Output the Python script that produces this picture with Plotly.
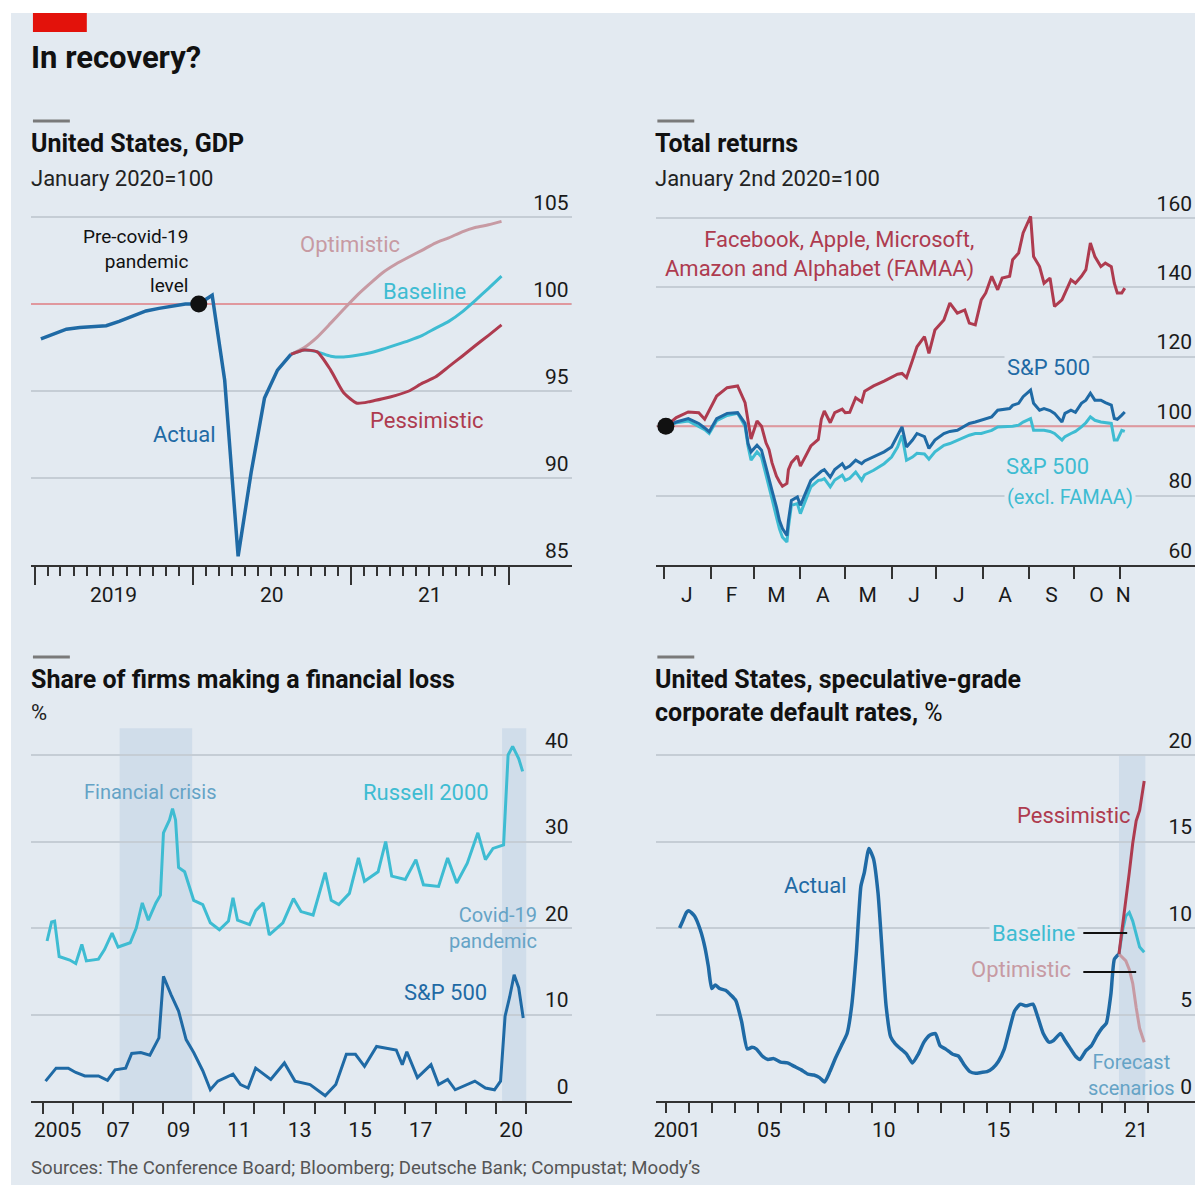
import plotly.graph_objects as go

# ---------------- DATA ----------------
# Panel 1: United States GDP, January 2020 = 100 (monthly)
gdp_actual_dates = ["2019-01-15", "2019-02-15", "2019-03-15", "2019-04-15", "2019-05-15", "2019-06-15",
                    "2019-07-15", "2019-08-15", "2019-09-15", "2019-10-15", "2019-11-15", "2019-12-15",
                    "2020-01-15", "2020-02-15", "2020-03-15", "2020-04-15", "2020-05-15", "2020-06-15",
                    "2020-07-15", "2020-08-15"]
gdp_actual = [98.0, 98.3, 98.55, 98.65, 98.7, 98.75, 99.0, 99.3, 99.6, 99.75, 99.9, 100.0,
              100.0, 100.5, 95.6, 85.5, 90.3, 94.6, 96.2, 97.1]
gdp_scen_dates = ["2020-08-15", "2020-09-15", "2020-10-15", "2020-11-15", "2020-12-15", "2021-01-15",
                  "2021-02-15", "2021-03-15", "2021-04-15", "2021-05-15", "2021-06-15", "2021-07-15",
                  "2021-08-15", "2021-09-15", "2021-10-15", "2021-11-15", "2021-12-15"]
gdp_optimistic = [97.1, 97.5, 98.1, 98.9, 99.7, 100.5, 101.2, 101.8, 102.3, 102.7, 103.1, 103.5,
                  103.8, 104.15, 104.4, 104.55, 104.75]
gdp_baseline = [97.1, 97.35, 97.25, 97.0, 96.95, 97.05, 97.2, 97.4, 97.65, 97.9, 98.2, 98.6,
                99.0, 99.55, 100.2, 100.9, 101.6]
gdp_pessimistic = [97.1, 97.35, 97.25, 96.2, 94.9, 94.3, 94.4, 94.55, 94.75, 95.0, 95.45, 95.8,
                   96.4, 97.0, 97.6, 98.2, 98.8]
gdp_ticks = ["2019-01-01", "2020-01-01", "2021-01-01", "2022-01-01"]
gdp_minor_ticks = [f"{y}-{m:02d}-01" for y in (2019, 2020, 2021) for m in range(1, 13)] + ["2022-01-01"]
gdp_label_pos = ["2019-07-02", "2020-07-02", "2021-07-02"]
gdp_labels = ["2019", "20", "21"]
gdp_yticks = [85, 90, 95, 100, 105]
gdp_reference = 100

# Panel 2: Total returns, January 2nd 2020 = 100
ret_dates = ["2020-01-02", "2020-01-09", "2020-01-17", "2020-01-24", "2020-01-28", "2020-01-31",
             "2020-02-05", "2020-02-12", "2020-02-19", "2020-02-24", "2020-02-26", "2020-02-28",
             "2020-03-03", "2020-03-06", "2020-03-09", "2020-03-11", "2020-03-13", "2020-03-16",
             "2020-03-18", "2020-03-20", "2020-03-23", "2020-03-24", "2020-03-26", "2020-03-30",
             "2020-04-01", "2020-04-08", "2020-04-13", "2020-04-15", "2020-04-17", "2020-04-21",
             "2020-04-24", "2020-04-29", "2020-05-01", "2020-05-04", "2020-05-08", "2020-05-12",
             "2020-05-14", "2020-05-20", "2020-05-27", "2020-06-01", "2020-06-05", "2020-06-08",
             "2020-06-11", "2020-06-15", "2020-06-18", "2020-06-23", "2020-06-26", "2020-06-30",
             "2020-07-06", "2020-07-10", "2020-07-15", "2020-07-20", "2020-07-23", "2020-07-27",
             "2020-07-31", "2020-08-03", "2020-08-07", "2020-08-11", "2020-08-14", "2020-08-19",
             "2020-08-21", "2020-08-25", "2020-08-28", "2020-09-02", "2020-09-04", "2020-09-08",
             "2020-09-11", "2020-09-15", "2020-09-18", "2020-09-23", "2020-09-25", "2020-09-29",
             "2020-10-02", "2020-10-06", "2020-10-09", "2020-10-12", "2020-10-15", "2020-10-19",
             "2020-10-22", "2020-10-26", "2020-10-28", "2020-10-30", "2020-11-02", "2020-11-04"]
ret_famaa = [100, 102.5, 104.1, 103.9, 102.0, 104.4,
             108.7, 111.1, 111.6, 106.8, 102.0, 96.3,
             101.5, 100.0, 95.2, 93.3, 89.5, 85.6, 84.0, 82.7, 83.5, 87.5, 89.5, 91.4,
             88.5, 94.3, 96.2, 102.0, 104.4, 101.0, 103.9, 104.9,
             103.9, 104.0, 108.2, 107.0, 110.1, 111.6, 113.0,
             114.0, 115.0, 115.2, 114.0, 119.0, 122.9, 125.8, 121.0, 127.7,
             130.6, 135.5, 132.6, 133.5, 129.7, 129.2, 136.4,
             138.4, 143.2, 139.3, 142.7, 143.2, 148.0, 149.9, 155.7,
             160.5, 148.9, 146.0, 141.2, 142.7, 134.5, 136.4, 138.4, 142.2,
             141.2, 143.2, 145.1, 152.8, 148.9, 146.0, 147.0, 146.0, 141.2, 138.4,
             138.4, 139.8]
ret_sp500 = [100, 101.2, 102.2, 100.8, 99.5, 98.4,
             102.2, 103.7, 103.9, 100.8, 95.0, 92.6,
             94.5, 93.1, 88.2, 84.4, 81.5, 76.7, 72.8, 70.5, 68.5, 72.8, 78.6, 79.6,
             77.2, 84.4, 86.3, 87.0, 87.5, 85.3, 87.5, 89.2,
             87.8, 88.5, 90.2, 89.2, 90.0, 91.1, 92.6,
             94.0, 97.4, 99.8, 94.0, 96.0, 97.9, 97.0, 93.6, 96.0,
             97.9, 98.5, 98.8, 100.0, 100.8, 101.2, 101.7,
             102.2, 102.7, 104.6, 104.8, 105.1, 106.0, 106.6, 108.5,
             110.4, 106.6, 104.6, 105.1, 104.5, 103.7, 101.2, 103.7, 104.6,
             104.0, 106.6, 107.5, 109.5, 107.5, 107.5, 106.8, 106.1, 102.2, 102.0,
             103.2, 104.1]
ret_sp500_ex = [100, 101.0, 101.5, 100.0, 99.0, 97.9,
                101.6, 103.1, 103.7, 100.0, 94.2, 90.2,
                92.6, 91.1, 86.3, 82.5, 79.1, 73.8, 70.4, 68.0, 66.6, 70.9, 77.2, 77.7,
                74.8, 82.5, 84.4, 84.5, 84.9, 82.5, 84.5, 85.9,
                84.4, 85.0, 86.8, 84.4, 86.0, 87.3, 89.2,
                91.1, 94.0, 97.4, 90.2, 91.1, 92.2, 92.0, 90.5, 92.6,
                94.5, 95.0, 96.0, 97.0, 97.4, 97.9, 97.9,
                98.3, 98.8, 99.8, 99.8, 99.8, 100.0, 100.3, 101.2,
                102.2, 98.8, 98.8, 98.8, 98.5, 97.9, 96.0, 97.0, 97.9,
                98.5, 99.8, 101.0, 102.7, 101.7, 101.2, 101.0, 100.8, 96.0, 96.0,
                98.8, 98.5]
ret_ticks = [f"2020-{m:02d}-01" for m in range(1, 12)]
ret_label_pos = ["2020-01-16", "2020-02-15", "2020-03-16", "2020-04-16", "2020-05-16", "2020-06-16",
                 "2020-07-16", "2020-08-16", "2020-09-16", "2020-10-16", "2020-11-03"]
ret_labels = ["J", "F", "M", "A", "M", "J", "J", "A", "S", "O", "N"]
ret_yticks = [60, 80, 100, 120, 140, 160]
ret_reference = 100

# Panel 3: Share of firms making a financial loss, %
loss_russell_x = [2005.15, 2005.3, 2005.4, 2005.55, 2005.9, 2006.1, 2006.3, 2006.45, 2006.85, 2007.05,
                  2007.3, 2007.5, 2007.9, 2008.1, 2008.3, 2008.5, 2008.75, 2008.9, 2009.0, 2009.2,
                  2009.3, 2009.4, 2009.5, 2009.7, 2010.0, 2010.3, 2010.55, 2010.85, 2011.15, 2011.3,
                  2011.45, 2011.85, 2012.05, 2012.3, 2012.5, 2012.95, 2013.3, 2013.55, 2013.95, 2014.35,
                  2014.55, 2014.8, 2015.15, 2015.45, 2015.65, 2016.1, 2016.35, 2016.55, 2017.0, 2017.35,
                  2017.6, 2018.1, 2018.4, 2018.7, 2019.05, 2019.4, 2019.65, 2019.9, 2020.25, 2020.4,
                  2020.55, 2020.75, 2020.88]
loss_russell = [18.5, 20.7, 20.8, 16.7, 16.3, 15.9, 18.1, 16.2, 16.4, 17.5,
                19.4, 17.8, 18.3, 20.0, 22.9, 20.9, 22.9, 23.8, 31.0, 32.5,
                33.8, 32.5, 27.0, 26.5, 23.2, 22.7, 20.6, 19.8, 20.8, 23.5,
                20.9, 20.4, 22.0, 22.9, 19.2, 20.6, 23.4, 21.9, 21.5, 26.4,
                23.2, 22.7, 24.0, 28.1, 25.4, 26.5, 30.0, 26.0, 25.6, 27.9,
                25.0, 24.8, 28.1, 25.2, 27.5, 31.0, 27.9, 29.2, 29.6, 40.0,
                41.0, 39.6, 38.1]
loss_sp_x = [2005.1, 2005.45, 2005.85, 2006.1, 2006.4, 2006.85, 2007.15, 2007.4, 2007.75, 2007.95,
             2008.25, 2008.55, 2008.85, 2009.0, 2009.25, 2009.5, 2009.75, 2010.0, 2010.3, 2010.55,
             2010.8, 2011.3, 2011.55, 2011.8, 2012.05, 2012.55, 2013.0, 2013.35, 2013.85, 2014.35,
             2014.7, 2015.05, 2015.35, 2015.65, 2016.05, 2016.35, 2016.7, 2016.9, 2017.05, 2017.4,
             2017.85, 2018.1, 2018.4, 2018.65, 2019.3, 2019.65, 2019.95, 2020.15, 2020.3, 2020.45,
             2020.6, 2020.75, 2020.9]
loss_sp = [2.3, 3.8, 3.8, 3.3, 2.9, 2.9, 2.4, 3.6, 3.8, 5.5,
           5.6, 5.3, 7.3, 14.4, 12.3, 10.4, 7.1, 5.6, 3.5, 1.3,
           2.3, 3.1, 1.9, 1.5, 3.8, 2.5, 4.4, 2.3, 1.9, 0.6,
           1.9, 5.4, 5.4, 4.0, 6.3, 6.1, 5.9, 4.2, 5.7, 2.7,
           4.2, 1.9, 2.5, 1.3, 2.3, 1.5, 1.3, 2.3, 9.8, 12.0,
           14.6, 13.1, 9.6]
loss_crisis_band = [2007.55, 2009.95]
loss_covid_band = [2020.2, 2021.0]
loss_band_top = 43.1
loss_ticks = list(range(2005, 2022))
loss_label_pos = [2005.5, 2007.5, 2009.5, 2011.5, 2013.5, 2015.5, 2017.5, 2020.5]
loss_labels = ["2005", "07", "09", "11", "13", "15", "17", "20"]
loss_yticks = [0, 10, 20, 30, 40]

# Panel 4: US speculative-grade corporate default rates, %
def_actual_x = [2001.6, 2001.75, 2001.9, 2002.0, 2002.25, 2002.5, 2002.7, 2002.85, 2003.0, 2003.15,
                2003.35, 2003.6, 2003.85, 2004.05, 2004.3, 2004.55, 2004.75, 2004.95, 2005.2, 2005.45,
                2005.7, 2006.0, 2006.3, 2006.6, 2006.9, 2007.2, 2007.45, 2007.7, 2007.92, 2008.15,
                2008.4, 2008.65, 2008.9, 2009.1, 2009.3, 2009.5, 2009.65, 2009.85, 2010.05, 2010.25,
                2010.45, 2010.6, 2010.8, 2011.0, 2011.25, 2011.5, 2011.75, 2012.0, 2012.25, 2012.5,
                2012.75, 2012.95, 2013.2, 2013.5, 2013.75, 2014.0, 2014.25, 2014.5, 2014.75, 2015.0,
                2015.25, 2015.5, 2015.75, 2015.95, 2016.2, 2016.45, 2016.7, 2017.0, 2017.2, 2017.45,
                2017.7, 2017.9, 2018.2, 2018.4, 2018.6, 2018.85, 2019.05, 2019.3, 2019.55, 2019.8,
                2020.0, 2020.2, 2020.4, 2020.55, 2020.75]
def_actual = [10.0, 10.45, 10.9, 11.0, 10.7, 9.9, 8.9, 7.8, 6.5, 6.7,
              6.5, 6.4, 6.1, 5.8, 4.6, 3.0, 3.1, 3.0, 2.6, 2.4,
              2.45, 2.25, 2.2, 2.0, 1.8, 1.55, 1.5, 1.35, 1.1, 1.7,
              2.5, 3.2, 3.9, 5.5, 8.5, 12.4, 13.2, 14.6, 14.0, 12.0,
              8.2, 5.5, 3.7, 3.3, 3.0, 2.7, 2.2, 2.7, 3.4, 3.8,
              3.9, 3.2, 3.0, 2.7, 2.6, 2.1, 1.7, 1.6, 1.65, 1.7,
              1.9, 2.3, 3.0, 4.0, 5.2, 5.6, 5.5, 5.6, 4.9, 3.9,
              3.4, 3.5, 3.9, 3.5, 3.1, 2.6, 2.4, 2.9, 3.2, 3.8,
              4.2, 4.5, 6.2, 8.2, 8.5]
def_scen_x = [2020.75, 2020.9, 2021.05, 2021.2, 2021.35, 2021.5, 2021.65, 2021.85]
def_pessimistic = [8.5, 10.0, 11.6, 13.2, 14.9, 16.2, 16.8, 18.5]
def_baseline = [8.5, 9.8, 10.7, 10.9, 10.4, 9.6, 8.9, 8.6]
def_optimistic = [8.5, 8.3, 8.1, 7.6, 6.8, 5.4, 4.2, 3.4]
def_forecast_band = [2020.75, 2021.9]
def_band_top = 20
def_ticks = list(range(2001, 2023))
def_label_pos = [2001.5, 2005.5, 2010.5, 2015.5, 2021.5]
def_labels = ["2001", "05", "10", "15", "21"]
def_yticks = [0, 5, 10, 15, 20]

# ---------------- STYLE ----------------
# The page body has an 8px margin, so the figure is drawn 8px in from the top-left corner.
OX, OY = 8, 8
FW, FH = 1195, 1177
BG = "#e3eaf1"
GRID = "#c5cdd5"
AXIS = "#333333"
TXT = "#1a1a1a"
BLUE = "#1f6aa5"
CYAN = "#3ebcd2"
RED = "#ae3b4f"
MAUVE = "#c79aa3"
PINK = "#e0989e"
MUTED = "#65a3c6"
BAND = "#d0ddea"
FONT = "Roboto, 'Open Sans', sans-serif"


def px(x):
    return (x - OX) / FW


def py(y):
    return 1 - (y - OY) / FH


P1 = dict(x=(28, 570), y=(188, 565))
P2 = dict(x=(655, 1195), y=(188, 565))
P3 = dict(x=(28, 570), y=(716, 1101))
P4 = dict(x=(655, 1195), y=(728, 1101))

r1 = ["2018-12-23", "2022-05-26"]
r2 = ["2019-12-26 16:00", "2020-12-21"]
r3 = [2004.617, 2022.5]
r4 = [2000.587, 2024.065]

fig = go.Figure()

# Panel 1 traces
fig.add_trace(go.Scatter(x=r1, y=[gdp_reference, gdp_reference], mode="lines", xaxis="x", yaxis="y",
                         line=dict(color=PINK, width=2), hoverinfo="skip"))
fig.add_trace(go.Scatter(x=gdp_scen_dates, y=gdp_optimistic, mode="lines", xaxis="x", yaxis="y",
                         line=dict(color=MAUVE, width=3, shape="spline", smoothing=0.6)))
fig.add_trace(go.Scatter(x=gdp_scen_dates, y=gdp_baseline, mode="lines", xaxis="x", yaxis="y",
                         line=dict(color=CYAN, width=3, shape="spline", smoothing=0.6)))
fig.add_trace(go.Scatter(x=gdp_scen_dates, y=gdp_pessimistic, mode="lines", xaxis="x", yaxis="y",
                         line=dict(color=RED, width=3, shape="spline", smoothing=0.6)))
fig.add_trace(go.Scatter(x=gdp_actual_dates, y=gdp_actual, mode="lines", xaxis="x", yaxis="y",
                         line=dict(color=BLUE, width=3.5)))
fig.add_trace(go.Scatter(x=[gdp_actual_dates[12]], y=[gdp_actual[12]], mode="markers", xaxis="x", yaxis="y",
                         marker=dict(color="#111111", size=17)))

# Panel 2 traces
fig.add_trace(go.Scatter(x=r2, y=[ret_reference, ret_reference], mode="lines", xaxis="x2", yaxis="y2",
                         line=dict(color=PINK, width=2), hoverinfo="skip"))
fig.add_trace(go.Scatter(x=ret_dates, y=ret_sp500_ex, mode="lines", xaxis="x2", yaxis="y2",
                         line=dict(color=CYAN, width=3)))
fig.add_trace(go.Scatter(x=ret_dates, y=ret_sp500, mode="lines", xaxis="x2", yaxis="y2",
                         line=dict(color=BLUE, width=3)))
fig.add_trace(go.Scatter(x=ret_dates, y=ret_famaa, mode="lines", xaxis="x2", yaxis="y2",
                         line=dict(color=RED, width=3)))
fig.add_trace(go.Scatter(x=[ret_dates[0]], y=[ret_famaa[0]], mode="markers", xaxis="x2", yaxis="y2",
                         marker=dict(color="#111111", size=17)))

# Panel 3 traces
fig.add_trace(go.Scatter(x=loss_russell_x, y=loss_russell, mode="lines", xaxis="x3", yaxis="y3",
                         line=dict(color=CYAN, width=3)))
fig.add_trace(go.Scatter(x=loss_sp_x, y=loss_sp, mode="lines", xaxis="x3", yaxis="y3",
                         line=dict(color=BLUE, width=3)))

# Panel 4 traces
fig.add_trace(go.Scatter(x=def_actual_x, y=def_actual, mode="lines", xaxis="x4", yaxis="y4",
                         line=dict(color=BLUE, width=3.5, shape="spline", smoothing=0.5)))
fig.add_trace(go.Scatter(x=def_scen_x, y=def_optimistic, mode="lines", xaxis="x4", yaxis="y4",
                         line=dict(color=MAUVE, width=3)))
fig.add_trace(go.Scatter(x=def_scen_x, y=def_baseline, mode="lines", xaxis="x4", yaxis="y4",
                         line=dict(color=CYAN, width=3)))
fig.add_trace(go.Scatter(x=def_scen_x, y=def_pessimistic, mode="lines", xaxis="x4", yaxis="y4",
                         line=dict(color=RED, width=3)))

# invisible carriers so the label-only axes get their own subplots
for xa, ya, pos in (("x5", "y", gdp_label_pos), ("x6", "y2", ret_label_pos),
                    ("x7", "y3", loss_label_pos), ("x8", "y4", def_label_pos)):
    fig.add_trace(go.Scatter(x=pos, y=[None] * len(pos), mode="markers", xaxis=xa, yaxis=ya,
                             marker=dict(opacity=0), hoverinfo="skip"))


# ---------------- AXES ----------------
def yax(p, rng, vals, anchor):
    return dict(domain=[py(p["y"][1]), py(p["y"][0])], range=rng, side="right", anchor=anchor,
                tickmode="array", tickvals=vals, ticklabelposition="inside top", ticks="",
                showgrid=True, gridcolor=GRID, gridwidth=2, zeroline=False, showline=False,
                tickfont=dict(size=21, color=TXT, family=FONT), fixedrange=True)


def xmain(p, rng, typ, vals, ticklen, anchor, minor=None):
    d = dict(domain=[px(p["x"][0]), px(p["x"][1])], range=rng, type=typ, anchor=anchor,
             tickmode="array", tickvals=vals, ticks="outside", ticklen=ticklen, tickwidth=2,
             tickcolor=AXIS, showticklabels=False, showline=True, linecolor=AXIS, linewidth=2,
             showgrid=False, zeroline=False, fixedrange=True)
    if minor is not None:
        d["minor"] = dict(tickmode="array", tickvals=minor, ticks="outside", ticklen=9,
                          tickwidth=1.5, tickcolor=AXIS, showgrid=False)
    return d


def xlab(over, rng, typ, vals, text, anchor, standoff):
    return dict(overlaying=over, anchor=anchor, range=rng, type=typ, tickmode="array",
                tickvals=vals, ticktext=text, ticks="outside", ticklen=standoff,
                tickcolor="rgba(0,0,0,0)", showline=False, showgrid=False, zeroline=False,
                tickfont=dict(size=21, color=TXT, family=FONT), fixedrange=True, side="bottom")


fig.update_layout(
    xaxis=xmain(P1, r1, "date", gdp_ticks, 18, "y", gdp_minor_ticks),
    yaxis=yax(P1, [85, 85 + (565 - 188) / 17.4], gdp_yticks, "x"),
    xaxis2=xmain(P2, r2, "date", ret_ticks, 12, "y2"),
    yaxis2=yax(P2, [60, 60 + (565 - 188) / 3.47], ret_yticks, "x2"),
    xaxis3=xmain(P3, r3, "linear", loss_ticks, 11, "y3"),
    yaxis3=yax(P3, [0, (1101 - 716) / 8.65], loss_yticks, "x3"),
    xaxis4=xmain(P4, r4, "linear", def_ticks, 10, "y4"),
    yaxis4=yax(P4, [0, (1101 - 728) / 17.3], def_yticks, "x4"),
    xaxis5=xlab("x", r1, "date", gdp_label_pos, gdp_labels, "y", 11),
    xaxis6=xlab("x2", r2, "date", ret_label_pos, ret_labels, "y2", 11),
    xaxis7=xlab("x3", r3, "linear", loss_label_pos, loss_labels, "y3", 10),
    xaxis8=xlab("x4", r4, "linear", def_label_pos, def_labels, "y4", 10),
)

# ---------------- SHAPES ----------------
shapes = [
    dict(type="rect", xref="paper", yref="paper", x0=0, x1=1, y0=0, y1=py(13),
         fillcolor=BG, line=dict(width=0), layer="below"),
    dict(type="rect", xref="paper", yref="paper", x0=px(30), x1=px(84), y0=py(32), y1=py(13),
         fillcolor="#e3120b", line=dict(width=0), layer="above"),
]
for (dx, dy) in [(30, 121), (656, 121), (30, 657), (656, 657)]:
    shapes.append(dict(type="rect", xref="paper", yref="paper", x0=px(dx), x1=px(dx + 37),
                       y0=py(dy + 1.5), y1=py(dy - 1.5), fillcolor="#7a7a7a", line=dict(width=0)))
for band in (loss_crisis_band, loss_covid_band):
    shapes.append(dict(type="rect", xref="x3", yref="y3", x0=band[0], x1=band[1], y0=0, y1=loss_band_top,
                       fillcolor=BAND, line=dict(width=0), layer="below"))
shapes.append(dict(type="rect", xref="x4", yref="y4", x0=def_forecast_band[0], x1=def_forecast_band[1],
                   y0=0, y1=def_band_top, fillcolor=BAND, line=dict(width=0), layer="below"))
shapes.append(dict(type="line", xref="paper", yref="paper", x0=px(1083), x1=px(1127), y0=py(933), y1=py(933),
                   line=dict(color="#111111", width=2)))
shapes.append(dict(type="line", xref="paper", yref="paper", x0=px(1083), x1=px(1136), y0=py(972), y1=py(972),
                   line=dict(color="#111111", width=2)))

# ---------------- ANNOTATIONS ----------------
anns = []


def ann(text, x, y, size=22, color=TXT, xanchor="left", align="left", bg=None):
    d = dict(text=text, x=px(x), y=py(y), xref="paper", yref="paper", showarrow=False,
             xanchor=xanchor, yanchor="middle", align=align,
             font=dict(size=size, color=color, family=FONT))
    if bg:
        d["bgcolor"] = bg
        d["borderpad"] = 2
    anns.append(d)


ann("<b>In recovery?</b>", 26, 58, size=31, color="#111111")
ann("<b>United States, GDP</b>", 26, 143, size=25, color="#111111")
ann("January 2020=100", 26, 178, size=22, color="#222222")
ann("<b>Total returns</b>", 652, 143, size=25, color="#111111")
ann("January 2nd 2020=100", 652, 178, size=22, color="#222222")
ann("<b>Share of firms making a financial loss</b>", 26, 679, size=25, color="#111111")
ann("%", 26, 712, size=22, color="#222222")
ann("<b>United States, speculative-grade</b>", 652, 679, size=25, color="#111111")
ann("<b>corporate default rates,</b> %", 652, 712, size=25, color="#111111")
ann("Sources: The Conference Board; Bloomberg; Deutsche Bank; Compustat; Moody’s", 26, 1168,
    size=18.6, color="#555555")

# panel 1
ann("Pre-covid-19<br>pandemic<br>level", 187, 261, size=19, color="#111111", xanchor="right", align="right")
ann("Optimistic", 296, 245, color=MAUVE)
ann("Baseline", 379, 292, color=CYAN)
ann("Pessimistic", 366, 420, color=RED)
ann("Actual", 148, 434, color=BLUE)
# panel 2
ann("Facebook, Apple, Microsoft,<br>Amazon and Alphabet (FAMAA)", 975, 255, color=RED,
    xanchor="right", align="right")
ann("S&P 500", 1003, 367, color=BLUE, bg=BG)
ann("S&P 500", 1003, 467, color=CYAN)
ann("(excl. FAMAA)", 1003, 497, size=20, color=CYAN, bg=BG)
# panel 3
ann("Financial crisis", 79, 792, size=20, color=MUTED)
ann("Russell 2000", 359, 792, color=CYAN)
ann("Covid-19<br>pandemic", 537, 928, size=20, color=MUTED, xanchor="right", align="right")
ann("S&P 500", 400, 992, color=BLUE)
# panel 4
ann("Actual", 781, 885, color=BLUE)
ann("Pessimistic", 1015, 815, color=RED)
ann("Baseline", 988, 933, color=CYAN, bg=BG)
ann("Optimistic", 968, 969, color=MAUVE)
ann("Forecast<br>scenarios", 1131, 1075, size=20, color=MUTED, xanchor="center", align="center")

fig.update_layout(
    width=FW, height=FH, margin=dict(l=0, r=0, t=0, b=0),
    paper_bgcolor="white", plot_bgcolor="rgba(0,0,0,0)",
    showlegend=False, shapes=shapes, annotations=anns,
    font=dict(family=FONT, color=TXT),
    hovermode=False,
)

fig.write_html("out.html")
